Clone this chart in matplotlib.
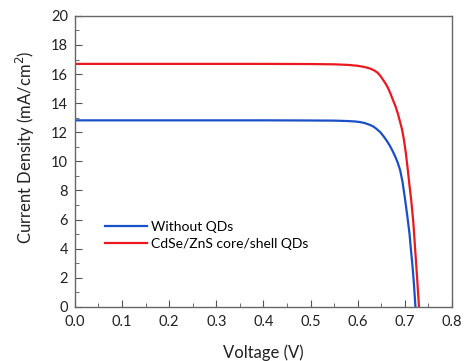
import matplotlib
matplotlib.use("Agg")
import matplotlib.pyplot as plt
from matplotlib.ticker import MultipleLocator

# Courbes J-V
v_ref = [0.0, 0.1, 0.2, 0.3, 0.4, 0.5, 0.55, 0.58, 0.595, 0.605, 0.615, 0.625, 0.633,
         0.64, 0.648, 0.655, 0.662, 0.668, 0.674, 0.68, 0.685, 0.69, 0.695, 0.70,
         0.705, 0.71, 0.713, 0.716, 0.719, 0.7225]
j_ref = [12.82, 12.82, 12.82, 12.82, 12.82, 12.81, 12.8, 12.77, 12.74, 12.7, 12.63, 12.52, 12.4,
         12.23, 12.0, 11.72, 11.4, 11.08, 10.72, 10.3, 9.9, 9.4, 8.6, 7.5,
         6.3, 5.0, 3.9, 2.9, 1.7, 0.0]

v_qd = [0.0, 0.1, 0.2, 0.3, 0.4, 0.5, 0.55, 0.58, 0.60, 0.612, 0.62, 0.628, 0.635,
        0.642, 0.648, 0.654, 0.66, 0.665, 0.67, 0.675, 0.68, 0.685, 0.69, 0.694,
        0.698, 0.702, 0.706, 0.71, 0.7135, 0.718, 0.722, 0.726, 0.730]
j_qd = [16.7, 16.7, 16.7, 16.7, 16.7, 16.69, 16.67, 16.63, 16.57, 16.5, 16.44, 16.36, 16.25,
        16.1, 15.88, 15.6, 15.3, 15.0, 14.62, 14.2, 13.8, 13.3, 12.7, 12.2,
        11.5, 10.6, 9.5, 8.3, 7.35, 5.8, 3.9, 2.0, 0.0]

labels = ["Without QDs", "CdSe/ZnS core/shell QDs"]

plt.rcParams['font.family'] = ['Lato', 'DejaVu Sans']
fig = plt.figure(figsize=(4.65, 3.61), dpi=100)
ax = fig.add_axes([0.161, 0.15, 0.811, 0.806])

ax.plot(v_ref, j_ref, color="#1a50c6", lw=1.6, label=labels[0])
ax.plot(v_qd, j_qd, color="#ec1820", lw=1.6, label=labels[1])

ax.set_xlim(0, 0.8)
ax.set_ylim(0, 20)
ax.xaxis.set_major_locator(MultipleLocator(0.1))
ax.xaxis.set_minor_locator(MultipleLocator(0.05))
ax.yaxis.set_major_locator(MultipleLocator(2))
ax.yaxis.set_minor_locator(MultipleLocator(1))
ax.xaxis.set_major_formatter(plt.FuncFormatter(lambda x, p: f"{x:.1f}"))

ax.tick_params(which="both", direction="in", colors="#555555", labelcolor="#222222",
               labelsize=10.5)
ax.tick_params(which="major", length=5)
ax.tick_params(which="minor", length=3)
ax.tick_params(axis="x", pad=6)
ax.tick_params(axis="y", pad=5)
for s in ax.spines.values():
    s.set_color("#666666")
    s.set_linewidth(1.0)

ax.set_xlabel("Voltage (V)", fontsize=12, color="#222222", labelpad=11)
ax.set_ylabel("Current Density (mA/cm$^2$)", fontsize=12, color="#222222")
ax.yaxis.set_label_coords(-0.10, 0.55)

ax.legend(loc="lower left", bbox_to_anchor=(0.048, 0.153), frameon=False, fontsize=10,
          handlelength=3.0, handletextpad=0.3, labelspacing=0.35)

fig.savefig("out.png", dpi=100)
